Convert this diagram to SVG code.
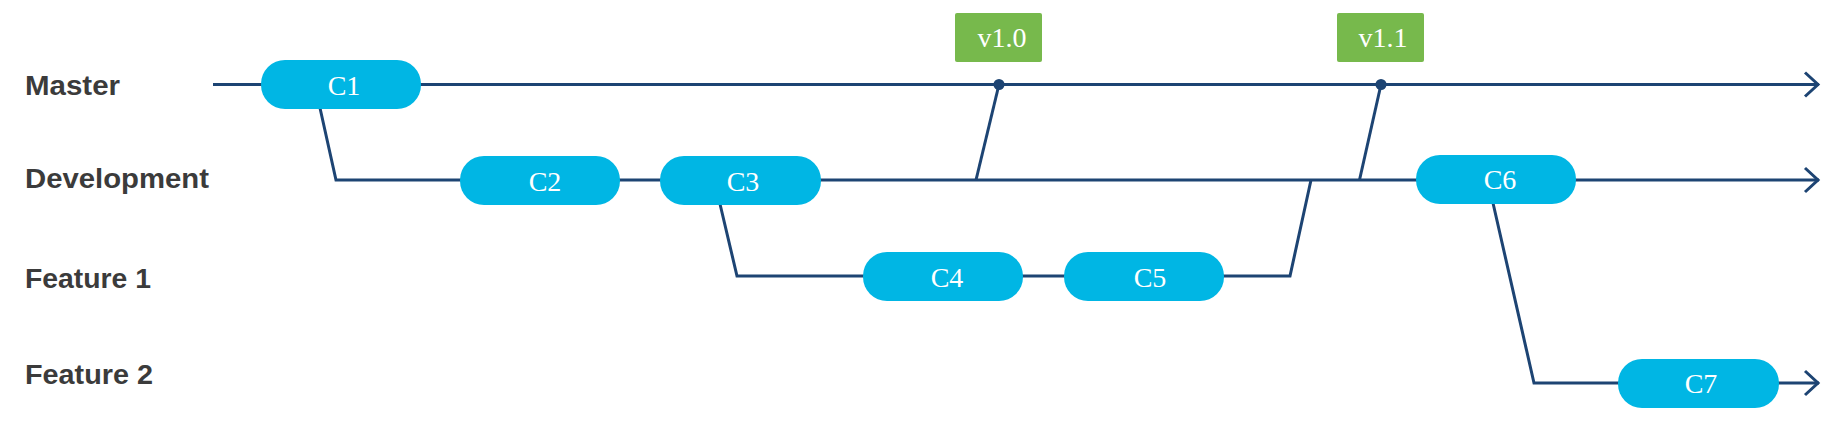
<svg xmlns="http://www.w3.org/2000/svg" width="1833" height="427" viewBox="0 0 1833 427">
<style>
.lbl{font-family:"Liberation Sans",Arial,sans-serif;font-weight:bold;font-size:28.5px;fill:#3b3b3b}
.commit rect{fill:#00b6e4}
.commit text,.tag text{font-family:"Liberation Serif","Times New Roman",serif;font-size:28px;fill:#ffffff;text-anchor:middle}
.tag rect{fill:#77b94c}
.ln{fill:none;stroke:#1d4473;stroke-width:3}
.dot{fill:#1d4473}
</style>
<defs>
<marker id="arr" markerUnits="userSpaceOnUse" markerWidth="24" markerHeight="32" refX="16" refY="14" orient="auto">
<path d="M2,2 L15,14 L2,26" fill="none" stroke="#1d4473" stroke-width="3"/>
</marker>
</defs>
<rect width="1833" height="427" fill="#ffffff"/>
<g id="labels">
<text class="lbl" x="25" y="95" textLength="95" lengthAdjust="spacingAndGlyphs">Master</text>
<text class="lbl" x="25" y="188" textLength="184" lengthAdjust="spacingAndGlyphs">Development</text>
<text class="lbl" x="25" y="288" textLength="126" lengthAdjust="spacingAndGlyphs">Feature 1</text>
<text class="lbl" x="25" y="384" textLength="128" lengthAdjust="spacingAndGlyphs">Feature 2</text>
</g>
<g id="connectors">
<path class="ln" d="M213,84.5 H1819" marker-end="url(#arr)"/>
<path class="ln" d="M320,108 L336,180 H1819" marker-end="url(#arr)"/>
<path class="ln" d="M720,204 L737,276 H1290 L1311,180"/>
<path class="ln" d="M1493,203 L1534,383 H1819" marker-end="url(#arr)"/>
<path class="ln" d="M976,180 L999,84.5"/>
<path class="ln" d="M1359.5,180 L1381,84.5"/>
<circle class="dot" cx="999" cy="84.5" r="5.5"/>
<circle class="dot" cx="1381" cy="84.5" r="5.5"/>
</g>
<g id="C1" class="commit"><rect x="261" y="60" width="160" height="49" rx="24" ry="24"/><text x="344" y="94.5">C1</text></g>
<g id="C2" class="commit"><rect x="460" y="156" width="160" height="49" rx="24" ry="24"/><text x="545" y="191">C2</text></g>
<g id="C3" class="commit"><rect x="660" y="156" width="161" height="49" rx="24" ry="24"/><text x="743" y="191">C3</text></g>
<g id="C4" class="commit"><rect x="863" y="252" width="160" height="49" rx="24" ry="24"/><text x="947" y="287">C4</text></g>
<g id="C5" class="commit"><rect x="1064" y="252" width="160" height="49" rx="24" ry="24"/><text x="1150" y="287">C5</text></g>
<g id="C6" class="commit"><rect x="1416" y="155" width="160" height="49" rx="24" ry="24"/><text x="1500" y="189">C6</text></g>
<g id="C7" class="commit"><rect x="1618" y="359" width="161" height="49" rx="24" ry="24"/><text x="1701" y="393">C7</text></g>
<g id="v1.0" class="tag"><rect x="955" y="13" width="87" height="49" rx="2"/><text x="1002" y="47">v1.0</text></g>
<g id="v1.1" class="tag"><rect x="1337" y="13" width="87" height="49" rx="2"/><text x="1383" y="47">v1.1</text></g>
</svg>
